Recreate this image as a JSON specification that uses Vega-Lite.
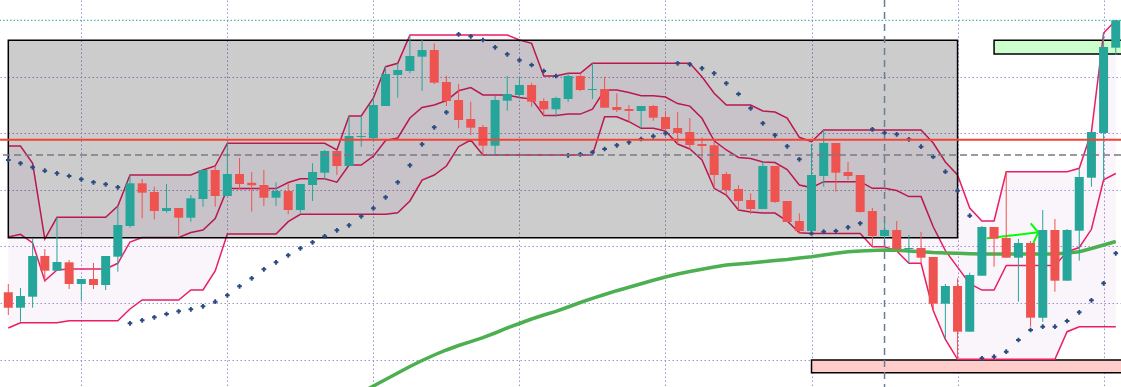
{
"$schema": "https://vega.github.io/schema/vega-lite/v6.json",
"width": 1121, "height": 387, "padding": 0, "autosize": {"type": "none"},
"background": "#ffffff",
"config": {"view": {"stroke": null}, "scale": {"continuousPadding": 0}, "axis": {"labels": false, "ticks": false, "domain": false, "title": null, "grid": true, "gridColor": "#9d93cc", "gridDash": [1.5, 2.5], "gridWidth": 1, "gridOpacity": 1}},
"datasets": {
"k": [
{"i":0,"o":107.7,"h":116,"l":85,"c":92.3,"u":254,"m":163,"dl":72,"s":240},
{"i":1,"o":92.3,"h":112,"l":78.3,"c":104,"u":254,"m":165.7,"dl":77.3,"s":236.7},
{"i":2,"o":103.3,"h":161,"l":92.3,"c":144,"u":236.7,"m":157,"dl":77.3,"s":232.7},
{"i":3,"o":144,"h":151,"l":118.3,"c":129.3,"u":161,"m":119.2,"dl":77.3,"s":229.3},
{"i":4,"o":129.3,"h":182.7,"l":129.3,"c":138,"u":182.7,"m":130,"dl":77.3,"s":226.7},
{"i":5,"o":137.7,"h":140,"l":111,"c":116,"u":182.7,"m":131,"dl":79.3,"s":224},
{"i":6,"o":116,"h":121,"l":99.3,"c":121,"u":182.7,"m":131,"dl":79.3,"s":220.7},
{"i":7,"o":121,"h":137,"l":111,"c":115,"u":182.7,"m":131,"dl":79.3,"s":217.7},
{"i":8,"o":115,"h":144,"l":110,"c":144,"u":182.7,"m":131,"dl":79.3,"s":215.7},
{"i":9,"o":143.3,"h":194,"l":128.3,"c":175,"u":194,"m":136.7,"dl":79.3,"s":212.7},
{"i":10,"o":174,"h":225,"l":172.3,"c":216.7,"u":225,"m":158,"dl":91,"s":76.7},
{"i":11,"o":216.7,"h":221,"l":181.7,"c":207.3,"u":225,"m":162.5,"dl":100,"s":79.7},
{"i":12,"o":208,"h":213.3,"l":180.7,"c":189,"u":225,"m":162.5,"dl":100,"s":82.7},
{"i":13,"o":189,"h":216,"l":187.3,"c":192,"u":225,"m":162.5,"dl":100,"s":86},
{"i":14,"o":192,"h":192,"l":165,"c":182.3,"u":225,"m":162.5,"dl":100,"s":88.7},
{"i":15,"o":182.3,"h":205,"l":178.3,"c":201.7,"u":225,"m":167.5,"dl":110,"s":90.7},
{"i":16,"o":201,"h":230,"l":193.3,"c":230,"u":230,"m":170,"dl":110,"s":93.7},
{"i":17,"o":230,"h":234,"l":193.3,"c":204,"u":234,"m":181.5,"dl":129,"s":98.3},
{"i":18,"o":204,"h":256.7,"l":204,"c":226,"u":256.7,"m":211.4,"dl":166,"s":104.7},
{"i":19,"o":226,"h":242,"l":210.7,"c":216,"u":256.7,"m":211.4,"dl":166,"s":113.7},
{"i":20,"o":217.3,"h":228,"l":188.3,"c":214.7,"u":256.7,"m":211.4,"dl":166,"s":121.7},
{"i":21,"o":215,"h":230,"l":194,"c":202.3,"u":256.7,"m":211.4,"dl":166,"s":130.7},
{"i":22,"o":202.3,"h":217.7,"l":194,"c":209,"u":256.7,"m":211.4,"dl":166,"s":137.7},
{"i":23,"o":209,"h":216.7,"l":185.7,"c":190,"u":256.7,"m":217.5,"dl":178.3,"s":144.7},
{"i":24,"o":190,"h":216,"l":187.3,"c":216,"u":256.7,"m":221.2,"dl":185.7,"s":151.7},
{"i":25,"o":215,"h":236.7,"l":199,"c":228,"u":256.7,"m":221.2,"dl":185.7,"s":157.7},
{"i":26,"o":227.3,"h":250,"l":220,"c":249,"u":256.7,"m":221.2,"dl":185.7,"s":163.7},
{"i":27,"o":249,"h":249,"l":225,"c":234,"u":250,"m":217.9,"dl":185.7,"s":169.7},
{"i":28,"o":234,"h":284,"l":234,"c":264,"u":284,"m":234.9,"dl":185.7,"s":174.7},
{"i":29,"o":263,"h":284,"l":253.3,"c":264,"u":284,"m":234.9,"dl":185.7,"s":183.7,"ma":7.5},
{"i":30,"o":261.7,"h":302,"l":260,"c":295,"u":302,"m":243.9,"dl":185.7,"s":191.7,"ma":14},
{"i":31,"o":294,"h":333.3,"l":294,"c":326,"u":333.3,"m":259.5,"dl":185.7,"s":202.7,"ma":20.5},
{"i":32,"o":325,"h":336.7,"l":302.3,"c":330,"u":336.7,"m":262,"dl":187.3,"s":217.7,"ma":27},
{"i":33,"o":329,"h":365,"l":326.7,"c":344,"u":365,"m":282,"dl":199,"s":234.7,"ma":33.5},
{"i":34,"o":343.3,"h":360,"l":309.3,"c":350,"u":365,"m":292.5,"dl":220,"s":255.7,"ma":39.5},
{"i":35,"o":350,"h":356.7,"l":316,"c":317.3,"u":365,"m":295,"dl":225,"s":272.7,"ma":45},
{"i":36,"o":318,"h":324,"l":294,"c":299,"u":365,"m":299.5,"dl":234,"s":287.7,"ma":50},
{"i":37,"o":300,"h":316,"l":271.7,"c":280,"u":365,"m":309.2,"dl":253.3,"s":365.7,"ma":54.5},
{"i":38,"o":281,"h":298.3,"l":265,"c":272.3,"u":365,"m":312.5,"dl":260,"s":363.7,"ma":58.3},
{"i":39,"o":273,"h":275,"l":245,"c":254.3,"u":365,"m":305,"dl":245,"s":360,"ma":62.3},
{"i":40,"o":254.3,"h":304,"l":245,"c":300,"u":365,"m":305,"dl":245,"s":352.7,"ma":67},
{"i":41,"o":299.3,"h":324,"l":289.3,"c":306,"u":365,"m":305,"dl":245,"s":345.7,"ma":72},
{"i":42,"o":305,"h":323.3,"l":301,"c":315,"u":360,"m":302.5,"dl":245,"s":339.7,"ma":76.5},
{"i":43,"o":315,"h":317.3,"l":293.3,"c":298.3,"u":356.7,"m":300.9,"dl":245,"s":335,"ma":81},
{"i":44,"o":299,"h":301.7,"l":283.3,"c":290.7,"u":324,"m":284.5,"dl":245,"s":329,"ma":85},
{"i":45,"o":290.7,"h":303.3,"l":283.3,"c":302,"u":324,"m":284.5,"dl":245,"s":324,"ma":88.7},
{"i":46,"o":301,"h":326.7,"l":298,"c":324,"u":326.7,"m":285.9,"dl":245,"s":244.7,"ma":93},
{"i":47,"o":324,"h":326.7,"l":309,"c":310,"u":326.7,"m":285.9,"dl":245,"s":245.7,"ma":97.5},
{"i":48,"o":310,"h":336.7,"l":301,"c":311,"u":336.7,"m":290.9,"dl":245,"s":247.7,"ma":101.7},
{"i":49,"o":311,"h":323.3,"l":292.3,"c":292.3,"u":336.7,"m":310,"dl":283.3,"s":251,"ma":105.5},
{"i":50,"o":293,"h":306.7,"l":288,"c":290,"u":336.7,"m":310,"dl":283.3,"s":254.7,"ma":109.3},
{"i":51,"o":291,"h":295,"l":278.3,"c":289,"u":336.7,"m":307.5,"dl":278.3,"s":257.7,"ma":112.7},
{"i":52,"o":289,"h":294,"l":271.7,"c":294,"u":336.7,"m":304.2,"dl":271.7,"s":261,"ma":116.3},
{"i":53,"o":294,"h":295,"l":279.3,"c":282.3,"u":336.7,"m":304.2,"dl":271.7,"s":263.7,"ma":119.7},
{"i":54,"o":283,"h":289,"l":266.7,"c":271,"u":336.7,"m":302.9,"dl":269,"s":266.7,"ma":123},
{"i":55,"o":272,"h":288,"l":255.7,"c":267,"u":336.7,"m":296.4,"dl":256,"s":336.7,"ma":126},
{"i":56,"o":268,"h":282,"l":250,"c":255,"u":336.7,"m":293.9,"dl":251,"s":335.7,"ma":128.5},
{"i":57,"o":256,"h":262.7,"l":241.7,"c":254,"u":323.3,"m":281.7,"dl":240,"s":331.7,"ma":130.7},
{"i":58,"o":254.7,"h":258.3,"l":211.7,"c":225,"u":306.7,"m":259.2,"dl":211.7,"s":326.7,"ma":133},
{"i":59,"o":226,"h":228,"l":205,"c":210,"u":295,"m":250,"dl":205,"s":316.7,"ma":135},
{"i":60,"o":211,"h":215,"l":190,"c":199,"u":295,"m":242.5,"dl":190,"s":306,"ma":136},
{"i":61,"o":200,"h":206.7,"l":186,"c":191,"u":295,"m":241.5,"dl":188,"s":291.7,"ma":137},
{"i":62,"o":191,"h":238,"l":191,"c":234,"u":289,"m":238,"dl":187,"s":276.7,"ma":138.3},
{"i":63,"o":234,"h":234,"l":197,"c":198,"u":288,"m":237.5,"dl":187,"s":264.7,"ma":139.5},
{"i":64,"o":199,"h":199,"l":178,"c":178,"u":282,"m":230.5,"dl":179,"s":253.7,"ma":140.5},
{"i":65,"o":179,"h":186.7,"l":166.7,"c":169,"u":262.7,"m":215,"dl":167.3,"s":240.7,"ma":142},
{"i":66,"o":169,"h":256,"l":166,"c":225,"u":258.3,"m":212.4,"dl":166.5,"s":166.5,"ma":143.3},
{"i":67,"o":224,"h":270,"l":213.3,"c":257,"u":270,"m":218.3,"dl":166.5,"s":168.3,"ma":145},
{"i":68,"o":257,"h":257,"l":208.3,"c":227.3,"u":270,"m":218.3,"dl":166.5,"s":169,"ma":146.7},
{"i":69,"o":228,"h":238,"l":220,"c":224,"u":270,"m":218.3,"dl":166.5,"s":172.7,"ma":148.3},
{"i":70,"o":225,"h":225,"l":187.3,"c":188,"u":270,"m":218.3,"dl":166.5,"s":176.7,"ma":149},
{"i":71,"o":189,"h":192,"l":153.3,"c":164,"u":270,"m":211.7,"dl":153.3,"s":270.7,"ma":149.5},
{"i":72,"o":164,"h":179,"l":160,"c":170,"u":270,"m":211.7,"dl":153.3,"s":267.3,"ma":150},
{"i":73,"o":170,"h":179,"l":150,"c":151,"u":270,"m":209.5,"dl":149,"s":265.7,"ma":149.7},
{"i":74,"o":151,"h":165,"l":136.7,"c":152,"u":270,"m":203.4,"dl":136.7,"s":260.7,"ma":149},
{"i":75,"o":152,"h":168,"l":136.7,"c":142.3,"u":270,"m":203.4,"dl":136.7,"s":253.3,"ma":148.3},
{"i":76,"o":143,"h":143,"l":89.3,"c":96.3,"u":257,"m":173.2,"dl":89.5,"s":243.3,"ma":147.5},
{"i":77,"o":96.3,"h":116,"l":60.7,"c":114,"u":238,"m":149.3,"dl":60.5,"s":228.3,"ma":147},
{"i":78,"o":114,"h":121.7,"l":40.7,"c":68.3,"u":225,"m":132.9,"dl":40.7,"s":209.3,"ma":146.7},
{"i":79,"o":68.3,"h":127.3,"l":68.3,"c":125,"u":192,"m":116.4,"dl":40.7,"s":184.3,"ma":146.3},
{"i":80,"o":124.3,"h":174,"l":124.3,"c":173,"u":179,"m":109.9,"dl":40.7,"s":41.7,"ma":146},
{"i":81,"o":173,"h":173,"l":133.3,"c":161.3,"u":179,"m":109.9,"dl":40.7,"s":43.3,"ma":146},
{"i":82,"o":162,"h":228.3,"l":142.3,"c":142.3,"u":228.3,"m":134.5,"dl":40.7,"s":48.3,"ma":146},
{"i":83,"o":142.3,"h":161,"l":98.3,"c":157,"u":228.3,"m":134.5,"dl":40.7,"s":60,"ma":146},
{"i":84,"o":157,"h":159,"l":73.3,"c":82.3,"u":228.3,"m":134.5,"dl":40.7,"s":70,"ma":146},
{"i":85,"o":82.3,"h":190,"l":78.3,"c":170,"u":228.3,"m":134.5,"dl":40.7,"s":73.3,"ma":146},
{"i":86,"o":170,"h":181,"l":108.3,"c":119.3,"u":228.3,"m":134.5,"dl":40.7,"s":73.3,"ma":146},
{"i":87,"o":119.3,"h":171,"l":119.3,"c":170,"u":228.3,"m":148.3,"dl":68.3,"s":79,"ma":147},
{"i":88,"o":169.3,"h":231.7,"l":139.3,"c":223,"u":231.7,"m":152.5,"dl":73.3,"s":87.7,"ma":148.3},
{"i":89,"o":222.3,"h":268,"l":213.3,"c":268,"u":268,"m":170.7,"dl":73.3,"s":99.7,"ma":151.5},
{"i":90,"o":267,"h":367,"l":220,"c":353,"u":367,"m":220.2,"dl":73.3,"s":116.7,"ma":155},
{"i":91,"o":352.3,"h":379.7,"l":345,"c":379.7,"u":379.7,"m":226.5,"dl":73.3,"s":146.7,"ma":158.5}
],
"arrow": [
{"seg":"a","x":80.39,"y":161.7},{"seg":"a","x":84.63,"y":167.7},
{"seg":"b","x":84.01,"y":176.7},{"seg":"b","x":84.63,"y":167.7},
{"seg":"c","x":84.22,"y":156.7},{"seg":"c","x":84.63,"y":167.7}
]
},
"layer": [
{"data":{"name":"k"},"mark":{"type":"area","color":"#9c27b0","opacity":0.05},
 "encoding":{"x":{"field":"i","type":"quantitative","scale":{"domain":[-0.682,91.43],"nice":false,"zero":false,"padding":0},"axis":{"values":[6,18,30,42,54,66,78,90]}},
 "y":{"field":"u","type":"quantitative","scale":{"domain":[13,400],"nice":false,"zero":false,"padding":0},"axis":{"values":[323.5,266.9,210.3,153.7,97.1,40.5]}},
 "y2":{"field":"dl"}}},
{"data":{"values":[{"x1":81,"x2":93,"y1":346,"y2":359.7}]},"mark":{"type":"rect","fill":"#ccffcc","stroke":"#000000","strokeWidth":1.5,"clip":true},
 "encoding":{"x":{"field":"x1","type":"quantitative","scale":{"domain":[-0.682,91.43],"nice":false,"zero":false,"padding":0}},"x2":{"field":"x2"},
 "y":{"field":"y1","type":"quantitative","scale":{"domain":[13,400],"nice":false,"zero":false,"padding":0}},"y2":{"field":"y2"}}},
{"data":{"values":[{"x1":66,"x2":93,"y1":27.3,"y2":40}]},"mark":{"type":"rect","fill":"#ffcccc","stroke":"#000000","strokeWidth":1.5,"clip":true},
 "encoding":{"x":{"field":"x1","type":"quantitative","scale":{"domain":[-0.682,91.43],"nice":false,"zero":false,"padding":0}},"x2":{"field":"x2"},
 "y":{"field":"y1","type":"quantitative","scale":{"domain":[13,400],"nice":false,"zero":false,"padding":0}},"y2":{"field":"y2"}}},
{"data":{"name":"k"},"mark":{"type":"line","color":"#e91e63","strokeWidth":1.5},
 "encoding":{"x":{"field":"i","type":"quantitative","scale":{"domain":[-0.682,91.43],"nice":false,"zero":false,"padding":0}},
 "y":{"field":"u","type":"quantitative","scale":{"domain":[13,400],"nice":false,"zero":false,"padding":0}}}},
{"data":{"name":"k"},"mark":{"type":"line","color":"#e91e63","strokeWidth":1.5},
 "encoding":{"x":{"field":"i","type":"quantitative","scale":{"domain":[-0.682,91.43],"nice":false,"zero":false,"padding":0}},
 "y":{"field":"m","type":"quantitative","scale":{"domain":[13,400],"nice":false,"zero":false,"padding":0}}}},
{"data":{"name":"k"},"mark":{"type":"line","color":"#e91e63","strokeWidth":1.5},
 "encoding":{"x":{"field":"i","type":"quantitative","scale":{"domain":[-0.682,91.43],"nice":false,"zero":false,"padding":0}},
 "y":{"field":"dl","type":"quantitative","scale":{"domain":[13,400],"nice":false,"zero":false,"padding":0}}}},
{"data":{"values":[{"x1":0,"x2":78,"y1":162.3,"y2":359.7}]},"mark":{"type":"rect","fill":"#000000","fillOpacity":0.2,"stroke":"#000000","strokeWidth":1.5},
 "encoding":{"x":{"field":"x1","type":"quantitative","scale":{"domain":[-0.682,91.43],"nice":false,"zero":false,"padding":0}},"x2":{"field":"x2"},
 "y":{"field":"y1","type":"quantitative","scale":{"domain":[13,400],"nice":false,"zero":false,"padding":0}},"y2":{"field":"y2"}}},
{"data":{"values":[{"x":72}]},"mark":{"type":"rule","color":"#6a7d95","strokeWidth":1.5,"strokeDash":[7,5]},
 "encoding":{"x":{"field":"x","type":"quantitative","scale":{"domain":[-0.682,91.43],"nice":false,"zero":false,"padding":0}}}},
{"data":{"name":"k"},"mark":{"type":"line","color":"#4caf50","strokeWidth":3.5,"clip":true},
 "encoding":{"x":{"field":"i","type":"quantitative","scale":{"domain":[-0.682,91.43],"nice":false,"zero":false,"padding":0}},
 "y":{"field":"ma","type":"quantitative","scale":{"domain":[13,400],"nice":false,"zero":false,"padding":0}}}},
{"data":{"name":"arrow"},"mark":{"type":"line","color":"#00ff00","strokeWidth":2},
 "encoding":{"x":{"field":"x","type":"quantitative","scale":{"domain":[-0.682,91.43],"nice":false,"zero":false,"padding":0}},
 "y":{"field":"y","type":"quantitative","scale":{"domain":[13,400],"nice":false,"zero":false,"padding":0}},"detail":{"field":"seg"}}},
{"data":{"name":"k"},"mark":{"type":"rule","strokeWidth":1},
 "encoding":{"x":{"field":"i","type":"quantitative","scale":{"domain":[-0.682,91.43],"nice":false,"zero":false,"padding":0}},
 "y":{"field":"l","type":"quantitative","scale":{"domain":[13,400],"nice":false,"zero":false,"padding":0}},"y2":{"field":"h"},
 "color":{"condition":{"test":"datum.c >= datum.o","value":"#26a69a"},"value":"#ef5350"}}},
{"data":{"name":"k"},"mark":{"type":"bar","size":9},
 "encoding":{"x":{"field":"i","type":"quantitative","scale":{"domain":[-0.682,91.43],"nice":false,"zero":false,"padding":0}},
 "y":{"field":"o","type":"quantitative","scale":{"domain":[13,400],"nice":false,"zero":false,"padding":0}},"y2":{"field":"c"},
 "color":{"condition":{"test":"datum.c >= datum.o","value":"#26a69a"},"value":"#ef5350"}}},
{"data":{"name":"k"},"mark":{"type":"point","shape":"cross","size":22,"filled":true,"color":"#2b4c80","opacity":1},
 "encoding":{"x":{"field":"i","type":"quantitative","scale":{"domain":[-0.682,91.43],"nice":false,"zero":false,"padding":0}},
 "y":{"field":"s","type":"quantitative","scale":{"domain":[13,400],"nice":false,"zero":false,"padding":0}}}},
{"data":{"values":[{"p":260.3}]},"mark":{"type":"rule","color":"#f44336","strokeWidth":2},
 "encoding":{"y":{"field":"p","type":"quantitative","scale":{"domain":[13,400],"nice":false,"zero":false,"padding":0}}}},
{"data":{"values":[{"p":245}]},"mark":{"type":"rule","color":"#787b86","strokeWidth":1.5,"strokeDash":[7,4]},
 "encoding":{"y":{"field":"p","type":"quantitative","scale":{"domain":[13,400],"nice":false,"zero":false,"padding":0}}}},
{"data":{"values":[{"p":379.7}]},"mark":{"type":"rule","color":"#26a69a","strokeWidth":1,"strokeDash":[1.5,2]},
 "encoding":{"y":{"field":"p","type":"quantitative","scale":{"domain":[13,400],"nice":false,"zero":false,"padding":0}}}}
]
}
